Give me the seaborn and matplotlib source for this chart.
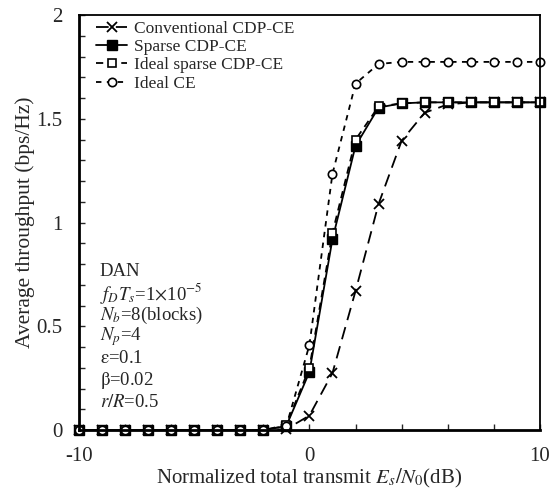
import numpy as np
import pandas as pd
import seaborn as sns
import matplotlib.pyplot as plt
from matplotlib.ticker import MultipleLocator, FuncFormatter

# Es/N0 in dB
snr = [-10, -9, -8, -7, -6, -5, -4, -3, -2, -1, 0, 1, 2, 3, 4, 5, 6, 7, 8, 9, 10]

conventional = [0, 0, 0, 0, 0, 0, 0, 0, 0, 0.005, 0.07, 0.275, 0.67, 1.09, 1.395,
                1.53, 1.57, 1.58, 1.58, 1.58, 1.58]
sparse = [0, 0, 0, 0, 0, 0, 0, 0, 0, 0.02, 0.28, 0.92, 1.37, 1.555, 1.575,
          1.58, 1.58, 1.58, 1.58, 1.58, 1.58]
ideal_sparse = [0, 0, 0, 0, 0, 0, 0, 0, 0, 0.025, 0.30, 0.95, 1.40, 1.56, 1.575,
                1.58, 1.58, 1.58, 1.58, 1.58, 1.58]
ideal_ce = [0, 0, 0, 0, 0, 0, 0, 0, 0, 0.02, 0.41, 1.235, 1.67, 1.765, 1.775,
            1.775, 1.775, 1.775, 1.775, 1.775, 1.775]

labels = ['Conventional CDP-CE', 'Sparse CDP-CE', 'Ideal sparse CDP-CE', 'Ideal CE']

sns.set_style('ticks')
plt.rcParams['font.family'] = ['Liberation Serif', 'DejaVu Serif']
plt.rcParams['mathtext.fontset'] = 'stix'
plt.rcParams['axes.unicode_minus'] = False

fig = plt.figure(figsize=(5.51, 4.91), dpi=100)
ax = fig.add_axes([0.143, 0.124, 0.837, 0.845])

sns.lineplot(x=snr, y=conventional, ax=ax, color='black', lw=1.3,
             linestyle=(0, (7, 4)), marker='x', ms=7, mew=1.3, mec='black',
             label=labels[0], clip_on=False)
sns.lineplot(x=snr, y=sparse, ax=ax, color='black', lw=1.3,
             linestyle='-', marker='s', ms=7, mfc='black', mec='black', mew=1,
             label=labels[1], clip_on=False)
sns.lineplot(x=snr, y=ideal_sparse, ax=ax, color='black', lw=1.3,
             linestyle=(0, (4, 3)), marker='s', ms=6, mfc='white', mec='black', mew=1.2,
             label=labels[2], clip_on=False)
sns.lineplot(x=snr, y=ideal_ce, ax=ax, color='black', lw=1.3,
             linestyle=(0, (3, 3)), marker='o', ms=6, mfc='white', mec='black', mew=1.2,
             label=labels[3], clip_on=False)

ax.set_xlim(-10, 10)
ax.set_ylim(0, 2)
ax.xaxis.set_major_locator(MultipleLocator(10))
ax.xaxis.set_minor_locator(MultipleLocator(2))
ax.yaxis.set_major_locator(MultipleLocator(0.5))
ax.yaxis.set_minor_locator(MultipleLocator(0.1))
ax.yaxis.set_major_formatter(FuncFormatter(lambda v, p: f'{v:g}'))
ax.tick_params(which='both', direction='in', labelsize=15, length=4, width=1)
ax.tick_params(axis='x', pad=12)
ax.tick_params(axis='y', pad=12)
for sp in ax.spines.values():
    sp.set_linewidth(1.3)
    sp.set_color('black')
ax.spines['left'].set_linewidth(2)
ax.spines['bottom'].set_linewidth(2)

ax.set_xlabel(r'Normalized total transmit $E_s/N_0$(dB)', fontsize=15, labelpad=1)
ax.set_ylabel('Average throughput (bps/Hz)', fontsize=15.5, labelpad=1)

ax.legend(loc='upper left', bbox_to_anchor=(0.03, 0.995), frameon=False, fontsize=12.5,
          handlelength=1.8, handletextpad=0.4, labelspacing=0.12, borderaxespad=0,
          borderpad=0.2)

notes = ['DAN', r'$f_DT_s$=1$\times$10$^{-5}$', r'$N_b$=8(blocks)', r'$N_p$=4',
         r'$\mathrm{\varepsilon}$=0.1', r'$\mathrm{\beta}$=0.02', r'$r/R$=0.5']
for i, t in enumerate(notes):
    ax.text(0.045, 0.382 - i * 0.0525, t, transform=ax.transAxes, fontsize=13.5,
            va='center', ha='left')

fig.savefig('out.png', dpi=100)
